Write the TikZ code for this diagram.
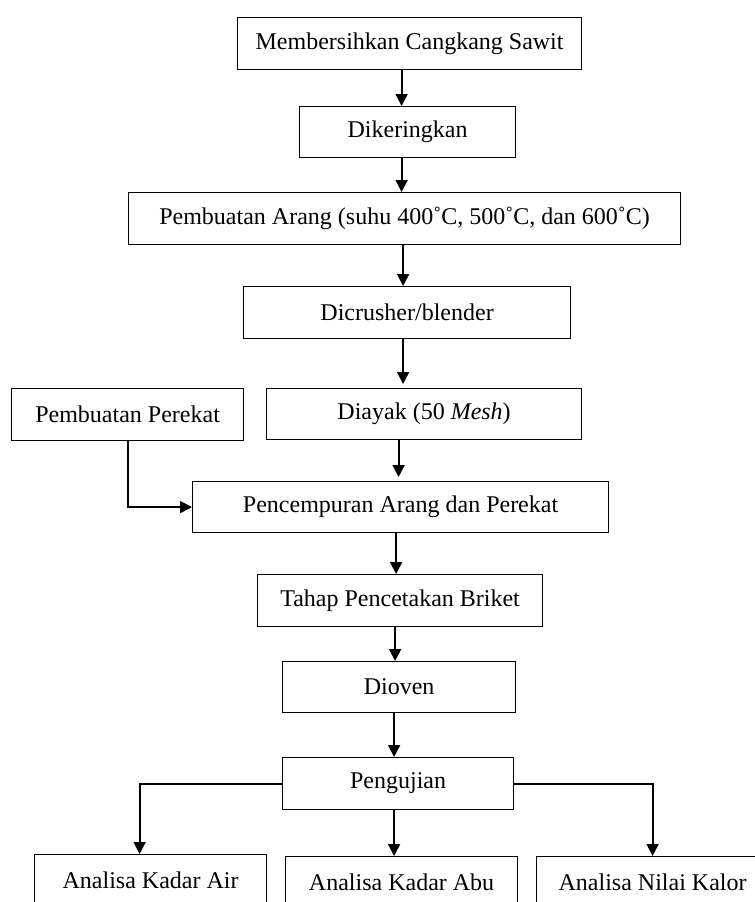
\documentclass[tikz,border=0pt]{standalone}
\usepackage{fontspec}
\setmainfont{Liberation Serif}
\usepackage{tikz}
\usetikzlibrary{arrows.meta}

\begin{document}
\begin{tikzpicture}[
x=0.5pt,y=-0.5pt,
MyBoxes/.style={draw=black,line width=0.6pt,anchor=north west,inner sep=0pt,minimum height=26pt,font=\fontsize{12}{14.4}\selectfont},
MyArrows/.style={draw=black,line width=0.9pt,-{Triangle[length=6pt,width=6pt]}},
MyLines/.style={draw=black,line width=0.9pt}
]
\useasboundingbox (0,0) rectangle (755,902);
\clip (0,0) rectangle (755,902);

\coordinate (Pa) at (237,17);
\coordinate (Pb) at (299,106);
\coordinate (Pc) at (128,192);
\coordinate (Pd) at (243,286);
\coordinate (Pe) at (266,388);
\coordinate (Pf) at (11,388);
\coordinate (Pg) at (192,481);
\coordinate (Ph) at (257,574);
\coordinate (Pi) at (282,661);
\coordinate (Pj) at (282,757);
\coordinate (Pk) at (34,854);
\coordinate (Pl) at (285,856);
\coordinate (Pm) at (536,856);

\node[MyBoxes,minimum width=172pt] (Bersih) at (Pa) {Membersihkan Cangkang Sawit};
\node[MyBoxes,minimum width=108pt,minimum height=25.5pt] (Kering) at (Pb) {Dikeringkan};
\node[MyBoxes,minimum width=276pt] (Arang) at (Pc) {Pembuatan Arang (suhu 400˚C, 500˚C, dan 600˚C)};
\node[MyBoxes,minimum width=163.5pt] (Crush) at (Pd) {Dicrusher/blender};
\node[MyBoxes,minimum width=157.5pt,minimum height=25.5pt] (Ayak) at (Pe) {Diayak (50 \textit{Mesh})};
\node[MyBoxes,minimum width=116pt] (Perekat) at (Pf) {Pembuatan Perekat};
\node[MyBoxes,minimum width=208pt,minimum height=25.5pt] (Campur) at (Pg) {Pencempuran Arang dan Perekat};
\node[MyBoxes,minimum width=142.5pt] (Cetak) at (Ph) {Tahap Pencetakan Briket};
\node[MyBoxes,minimum width=116.5pt,minimum height=25.5pt] (Oven) at (Pi) {Dioven};
\node[MyBoxes,minimum width=115.5pt] (Uji) at (Pj) {Pengujian};
\node[MyBoxes,minimum width=116pt] (Air) at (Pk) {Analisa Kadar Air};
\node[MyBoxes,minimum width=116pt] (Abu) at (Pl) {Analisa Kadar Abu};
\node[MyBoxes,minimum width=116pt] (Kalor) at (Pm) {Analisa Nilai Kalor};

% main line
\draw[MyArrows] ([xshift=-3pt]Kering.north |- Bersih.south) -- ([xshift=-3pt]Kering.north);
\draw[MyArrows] ([xshift=-1.5pt]Arang.north |- Kering.south) -- ([xshift=-1.5pt]Arang.north);
\draw[MyArrows] ([xshift=-2pt]Crush.north |- Arang.south) -- ([xshift=-2pt]Crush.north);
\draw[MyArrows] ([xshift=-2pt]Crush.south) -- ([xshift=-2pt,yshift=2pt]Crush.south |- Ayak.north);
\draw[MyArrows] ([xshift=-1pt]Campur.north |- Ayak.south) -- ([xshift=-1pt,yshift=2pt]Campur.north);
\draw[MyArrows] ([xshift=-2pt]Cetak.north |- Campur.south) -- ([xshift=-2pt]Cetak.north);
\draw[MyArrows] ([xshift=-2pt]Oven.north |- Cetak.south) -- ([xshift=-2pt]Oven.north);
\draw[MyArrows] ([xshift=-2pt]Uji.north |- Oven.south) -- ([xshift=-2pt]Uji.north);

% perekat
\draw[MyArrows] (Perekat.south) |- (Campur.west);

% pengujian
\draw[MyArrows] (Uji.west) -| ([xshift=-5.5pt]Air.north);
\draw[MyArrows] ([xshift=-2pt]Uji.south) -- ([xshift=-2pt]Uji.south |- Abu.north);
\draw[MyArrows] (Uji.east) -| (Kalor.north);

\end{tikzpicture}
\end{document}
